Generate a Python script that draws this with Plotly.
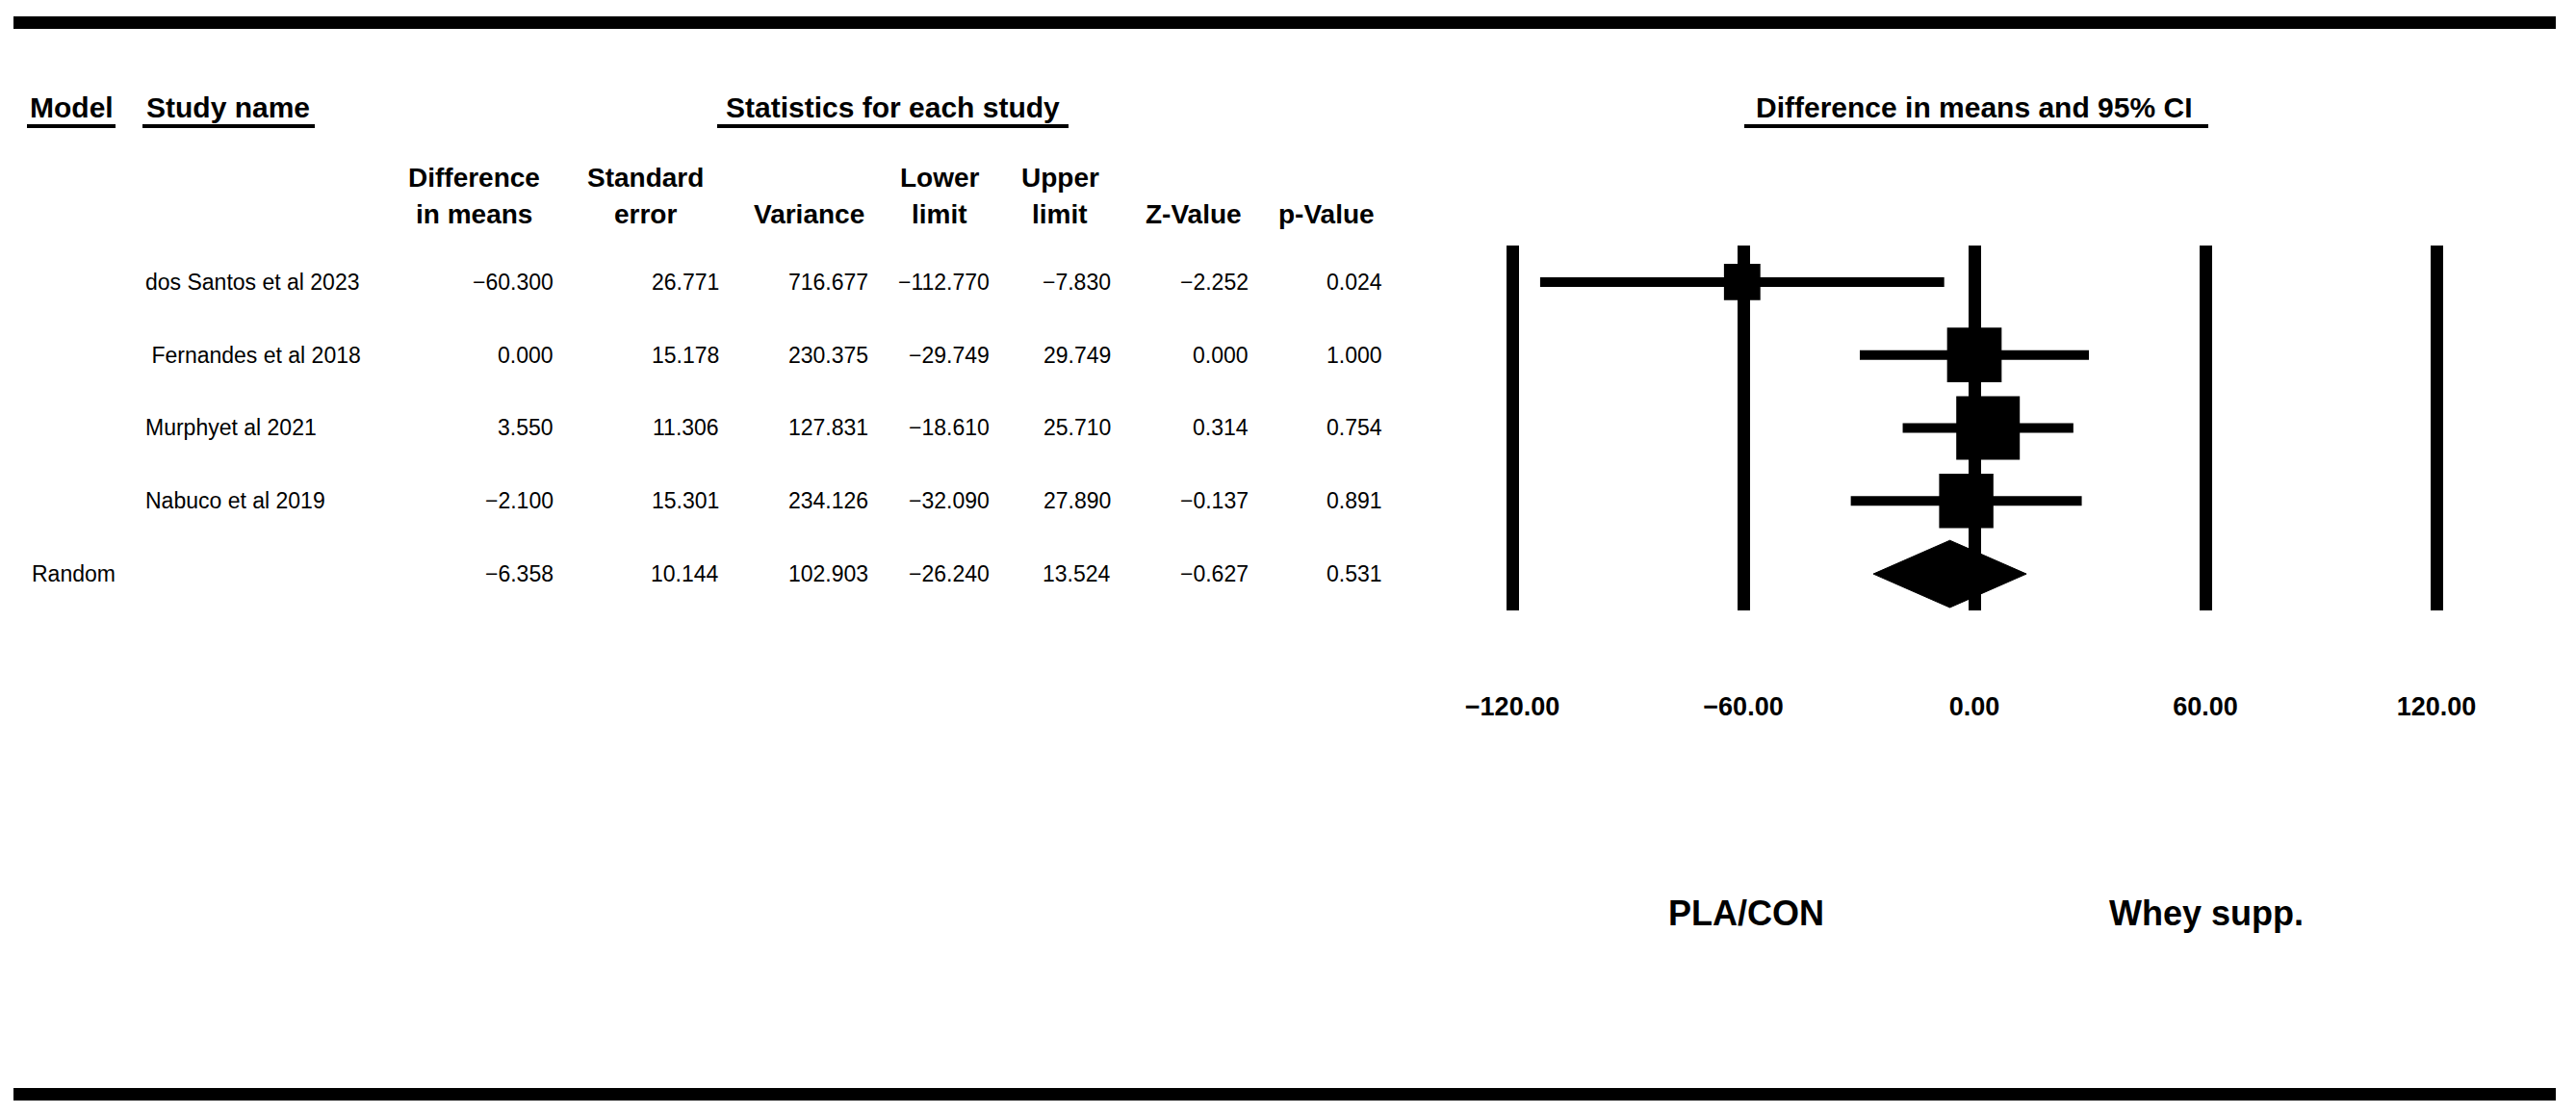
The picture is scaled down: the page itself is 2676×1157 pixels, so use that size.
import numpy as np
import plotly.graph_objects as go

# ---------------- data ----------------
MODELS = ["", "", "", "", "Random"]
STUDIES = ["dos Santos et al 2023", " Fernandes et al 2018", "Murphyet al 2021", "Nabuco et al 2019", ""]
DIFF = [-60.300, 0.000, 3.550, -2.100, -6.358]
SE = [26.771, 15.178, 11.306, 15.301, 10.144]
VAR = [716.677, 230.375, 127.831, 234.126, 102.903]
LOWER = [-112.770, -29.749, -18.610, -32.090, -26.240]
UPPER = [-7.830, 29.749, 25.710, 27.890, 13.524]
ZVAL = [-2.252, 0.000, 0.314, -0.137, -0.627]
PVAL = [0.024, 1.000, 0.754, 0.891, 0.531]
TICKS = [-120, -60, 0, 60, 120]
HEAD1 = ["Difference", "Standard", "", "Lower", "Upper", "", ""]
HEAD2 = ["in means", "error", "Variance", "limit", "limit", "Z-Value", "p-Value"]
LEFT_LABEL = "PLA/CON"
RIGHT_LABEL = "Whey supp."

# page body has an 8px margin: shrink the figure and offset every target by it
OFF = 8
W, H = 2676 - 2 * OFF, 1157 - 2 * OFF
def px(x):
    return (x - OFF) / W
def py(y):
    return 1 - (y - OFF) / H

SANS = "Liberation Sans, Arial, sans-serif"

n_studies = 4
rows = list(range(1, len(STUDIES) + 1))

# random-effects (DerSimonian-Laird) weights for square sizes
v = np.array(VAR[:n_studies])
y = np.array(DIFF[:n_studies])
wf = 1 / v
ybar = np.sum(wf * y) / np.sum(wf)
Q = np.sum(wf * (y - ybar) ** 2)
C = np.sum(wf) - np.sum(wf ** 2) / np.sum(wf)
tau2 = max(0.0, (Q - (n_studies - 1)) / C)
wr = 1 / (v + tau2)
sizes = 66 * np.sqrt(wr / wr.max())

fig = go.Figure()

# study CIs + squares
fig.add_trace(go.Scatter(
    x=DIFF[:n_studies], y=rows[:n_studies], mode="markers",
    marker=dict(symbol="square", size=sizes, color="black", opacity=1, line=dict(width=0)),
    error_x=dict(type="data", symmetric=False,
                 array=[u - d for u, d in zip(UPPER[:n_studies], DIFF[:n_studies])],
                 arrayminus=[d - l for d, l in zip(DIFF[:n_studies], LOWER[:n_studies])],
                 color="black", thickness=10, width=0),
    showlegend=False, hoverinfo="skip", cliponaxis=False,
))

# summary diamond
r = rows[-1]
h = 0.46
fig.add_trace(go.Scatter(
    x=[LOWER[-1], DIFF[-1], UPPER[-1], DIFF[-1], LOWER[-1]],
    y=[r, r - h, r, r + h, r],
    mode="lines", fill="toself", fillcolor="black",
    line=dict(color="black", width=1),
    showlegend=False, hoverinfo="skip",
))

x0_px = 2051.0
unit = 4.0
d0, d1 = 1500, 2600
fig.update_layout(
    width=W, height=H,
    margin=dict(l=0, r=0, t=0, b=0),
    paper_bgcolor="white", plot_bgcolor="white",
    xaxis=dict(
        domain=[px(d0), px(d1)],
        range=[(d0 - x0_px) / unit, (d1 - x0_px) / unit],
        tickvals=TICKS, tickformat=".2f",
        showgrid=True, gridcolor="black", gridwidth=13,
        zeroline=False, showline=False, ticks="",
        ticklabelstandoff=81,
        tickfont=dict(family=SANS, size=27, color="black", weight="bold"),
        fixedrange=True,
    ),
    yaxis=dict(
        domain=[py(634), py(255)],
        range=[len(rows) + 0.5, 0.5],
        visible=False, showgrid=False, zeroline=False, fixedrange=True,
    ),
)

ann = []
def text(x, y, t, size=23, bold=False, xanchor="center", yref="paper"):
    ann.append(dict(x=x, y=y, xref="paper", yref=yref, text=t, showarrow=False,
                    xanchor=xanchor, yanchor="middle",
                    font=dict(family=SANS, size=size, color="black",
                              weight="bold" if bold else "normal")))

# section headers
text(px(29), py(112), "Model", size=30, bold=True, xanchor="left")
text(px(150), py(112), "Study name", size=30, bold=True, xanchor="left")
text(px(927), py(112), "Statistics for each study", size=30, bold=True)
text(px(2051), py(112), "Difference in means and 95% CI", size=30, bold=True)

col_centers = [492, 670, 841, 976, 1101, 1240, 1378]
for cx, h1, h2 in zip(col_centers, HEAD1, HEAD2):
    if h1:
        text(px(cx), py(185), h1, size=28, bold=True)
    text(px(cx), py(222), h2, size=28, bold=True)

# data rows
col_right = [577, 749, 904, 1030, 1156, 1299, 1438]
fmt = lambda val: f"{val:.3f}".replace("-", "\u2212")
for i, rr in enumerate(rows):
    if MODELS[i]:
        text(px(31), rr, MODELS[i], xanchor="left", yref="y")
    if STUDIES[i]:
        name = STUDIES[i]
        if name.startswith(" "):
            name = "&nbsp;" + name[1:]
        text(px(149), rr, name, xanchor="left", yref="y")
    vals = [DIFF[i], SE[i], VAR[i], LOWER[i], UPPER[i], ZVAL[i], PVAL[i]]
    for cx, val in zip(col_right, vals):
        text(px(cx), rr, fmt(val), xanchor="right", yref="y")

# direction labels
text(px(1814), py(948), LEFT_LABEL, size=36, bold=True)
text(px(2292), py(948), RIGHT_LABEL, size=36, bold=True)

fig.update_layout(annotations=ann)

shapes = []
# thick frame bars
for y0, y1 in [(17, 30), (1130, 1143)]:
    shapes.append(dict(type="rect", xref="paper", yref="paper", x0=px(14), x1=px(2655),
                       y0=py(y1), y1=py(y0), fillcolor="black", line=dict(width=0)))
# header underlines
for a, b in [(28, 120), (148, 327), (745, 1110), (1812, 2294)]:
    shapes.append(dict(type="line", xref="paper", yref="paper", x0=px(a), x1=px(b),
                       y0=py(131), y1=py(131), line=dict(color="black", width=4)))
fig.update_layout(shapes=shapes)

fig.write_html("out.html")
